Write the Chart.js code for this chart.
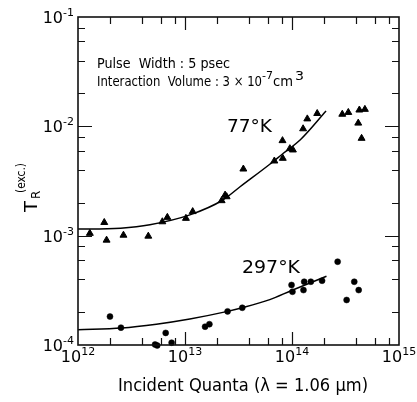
<!DOCTYPE html>
<html><head><meta charset="utf-8">
<script src="https://cdn.jsdelivr.net/npm/chart.js@4.4.1/dist/chart.umd.min.js"></script>
<style>html,body{margin:0;padding:0;background:#fff;}canvas{display:block;}</style>
</head><body>
<canvas id="c" width="417" height="402"></canvas>
<script>
// ---- data ----
const tri77X = [1.29e12,1.76e12,1.85e12,2.66e12,4.54e12,6.14e12,6.84e12,1.02e13,1.18e13,2.2e13,2.37e13,2.45e13,3.51e13,6.84e13,8.15e13,8.2e13,9.55e13,1.02e14,1.27e14,1.39e14,1.72e14,2.95e14,3.36e14,4.16e14,4.26e14,4.47e14,4.8e14];
const tri77Y = [1.05e-3,1.32e-3,9.1e-4,1.01e-3,9.9e-4,1.34e-3,1.47e-3,1.44e-3,1.66e-3,2.09e-3,2.35e-3,2.27e-3,4.07e-3,4.82e-3,7.4e-3,5.1e-3,6.25e-3,6.08e-3,9.5e-3,1.17e-2,1.31e-2,1.29e-2,1.34e-2,1.07e-2,1.41e-2,7.77e-3,1.43e-2];
const dot297X = [1.99e12,2.52e12,5.25e12,5.5e12,6.6e12,7.5e12,1.54e13,1.69e13,2.5e13,3.43e13,9.9e13,1.01e14,1.28e14,1.3e14,1.5e14,1.91e14,2.67e14,3.24e14,3.82e14,4.2e14];
const dot297Y = [1.82e-4,1.44e-4,1.01e-4,0.99e-4,1.29e-4,1.05e-4,1.47e-4,1.55e-4,2.03e-4,2.19e-4,3.54e-4,3.07e-4,3.18e-4,3.79e-4,3.79e-4,3.87e-4,5.78e-4,2.58e-4,3.79e-4,3.18e-4];
const fit77X = [1e12,1.3e12,2.5e12,4.7e12,1.11e13,2.26e13,3.27e13,6.2e13,8.3e13,1.19e14,2.08e14];
const fit77Y = [1.15e-3,1.15e-3,1.17e-3,1.26e-3,1.55e-3,2.12e-3,2.8e-3,4.5e-3,5.67e-3,7.5e-3,1.38e-2];
const fit297X = [1e12,2.56e12,5.4e12,1.11e13,2.5e13,3.43e13,6.2e13,9.9e13,2.1e14];
const fit297Y = [1.38e-4,1.43e-4,1.55e-4,1.73e-4,2.03e-4,2.19e-4,2.6e-4,3.15e-4,4.25e-4];
const xTickExps = [12,13,14,15];
const yTickExps = [-4,-3,-2,-1];
const minorMults = [2,4,6,8];
const seriesLabels = ['77°K','297°K'];
const xTitle = 'Incident Quanta (λ = 1.06 μm)';
const note1 = 'Pulse  Width : 5 psec';
const note2 = ['Interaction  Volume : 3 × 10','-7','cm','3'];

const pts = (xs, ys) => xs.map((x,i)=>({x, y: ys[i]}));
const FONT = '"DejaVu Sans", sans-serif';

function fitted(ctx, text, x, y, width, px, align) {
  ctx.save();
  ctx.font = px + 'px ' + FONT;
  const w = ctx.measureText(text).width;
  const s = width / w;
  let x0 = x;
  if (align === 'center') x0 = x - width/2;
  else if (align === 'right') x0 = x - width;
  ctx.translate(x0, y);
  ctx.scale(s, 1);
  ctx.textAlign = 'left';
  ctx.textBaseline = 'alphabetic';
  ctx.fillText(text, 0, 0);
  ctx.restore();
}

const decor = {
  id: 'decor',
  afterDatasetsDraw(chart) {
    const {ctx, chartArea: a, scales: {x, y}} = chart;
    ctx.save();
    ctx.fillStyle = '#000';
    ctx.strokeStyle = '#111';
    ctx.lineWidth = 1.6;
    ctx.strokeRect(a.left, a.top, a.right - a.left, a.bottom - a.top);
    ctx.lineWidth = 1.2;
    ctx.beginPath();
    const xmin = xTickExps[0], xmax = xTickExps[xTickExps.length-1];
    for (const e of xTickExps) {
      const vals = [[Math.pow(10,e), 13]];
      if (e < xmax) minorMults.forEach(m => vals.push([m*Math.pow(10,e), 7]));
      for (const [v, len] of vals) {
        const px = Math.round(x.getPixelForValue(v)) + 0.5;
        if ((e === xmin || e === xmax) && len === 13) continue;
        ctx.moveTo(px, a.bottom); ctx.lineTo(px, a.bottom - len);
        ctx.moveTo(px, a.top); ctx.lineTo(px, a.top + len);
      }
    }
    const ymax = yTickExps[yTickExps.length-1];
    for (const e of yTickExps) {
      const vals = [[Math.pow(10,e), 14]];
      if (e < ymax) minorMults.forEach(m => vals.push([m*Math.pow(10,e), 7]));
      for (const [v, len] of vals) {
        if ((e === yTickExps[0] || e === ymax) && len === 14) continue;
        const py = Math.round(y.getPixelForValue(v)) + 0.5;
        ctx.moveTo(a.left, py); ctx.lineTo(a.left + len, py);
        ctx.moveTo(a.right, py); ctx.lineTo(a.right - len, py);
      }
    }
    ctx.stroke();
    ctx.textBaseline = 'alphabetic';
    for (const e of xTickExps) {
      const px = x.getPixelForValue(Math.pow(10,e));
      ctx.font = '16px ' + FONT;
      const wb = ctx.measureText('10').width;
      ctx.font = '11px ' + FONT;
      const we = ctx.measureText(String(e)).width;
      const x0 = px - (wb + we)/2;
      ctx.font = '16px ' + FONT;
      ctx.textAlign = 'left';
      ctx.fillText('10', x0, a.bottom + 17);
      ctx.font = '11px ' + FONT;
      ctx.fillText(String(e), x0 + wb, a.bottom + 10);
    }
    for (const e of yTickExps) {
      const py = y.getPixelForValue(Math.pow(10,e));
      ctx.font = '11px ' + FONT;
      const es = String(e);
      const we = ctx.measureText(es).width;
      ctx.textAlign = 'left';
      const xr = a.left - 4;
      ctx.fillText(es, xr - we, py - 1);
      ctx.font = '16px ' + FONT;
      ctx.textAlign = 'right';
      ctx.fillText('10', xr - we, py + 6);
    }
    fitted(ctx, xTitle, 243, 391, 250, 17, 'center');
    ctx.save();
    ctx.translate(37, 212);
    ctx.rotate(-Math.PI/2);
    ctx.textAlign = 'left';
    ctx.font = '18px ' + FONT;
    ctx.fillText('T', 0, 0);
    ctx.font = '12px ' + FONT;
    ctx.fillText('R', 13, 3);
    fitted(ctx, '(exc.)', 19, -12, 30, 12, 'left');
    ctx.restore();
    fitted(ctx, note1, 97, 68, 133, 14, 'left');
    fitted(ctx, note2[0], 97, 86, 165, 14, 'left');
    fitted(ctx, note2[1], 262, 79, 11, 11, 'left');
    fitted(ctx, note2[2], 273, 86, 20, 14, 'left');
    fitted(ctx, note2[3], 295, 80, 9, 12, 'left');
    fitted(ctx, seriesLabels[0], 227, 132, 45, 18, 'left');
    fitted(ctx, seriesLabels[1], 242, 273, 58, 18, 'left');
    ctx.restore();
  }
};

new Chart(document.getElementById('c'), {
  type: 'scatter',
  data: { datasets: [
    { label: '77°K fit', type: 'line', data: pts(fit77X, fit77Y), borderColor: '#000', borderWidth: 1.5,
      pointRadius: 0, fill: false, cubicInterpolationMode: 'monotone', clip: false },
    { label: '297°K fit', type: 'line', data: pts(fit297X, fit297Y), borderColor: '#000', borderWidth: 1.5,
      pointRadius: 0, fill: false, cubicInterpolationMode: 'monotone', clip: false },
    { label: seriesLabels[0], data: pts(tri77X, tri77Y), pointStyle: 'triangle', pointRadius: 4,
      backgroundColor: '#000', borderColor: '#000', borderWidth: 1, clip: false },
    { label: seriesLabels[1], data: pts(dot297X, dot297Y), pointStyle: 'circle', pointRadius: 3,
      backgroundColor: '#000', borderColor: '#000', borderWidth: 0.5, clip: false }
  ]},
  options: {
    responsive: false, animation: false, devicePixelRatio: 1,
    layout: { padding: { left: 0, right: 18, top: 17, bottom: 0 } },
    plugins: { legend: { display: false }, tooltip: { enabled: false } },
    scales: {
      x: { type: 'logarithmic', min: 1e12, max: 1e15, ticks: { display: false }, grid: { display: false },
           border: { display: false }, afterFit(s) { s.height = 57; } },
      y: { type: 'logarithmic', min: 1e-4, max: 1e-1, ticks: { display: false }, grid: { display: false },
           border: { display: false }, afterFit(s) { s.width = 78; } }
    }
  },
  plugins: [decor]
});
</script>
</body></html>
